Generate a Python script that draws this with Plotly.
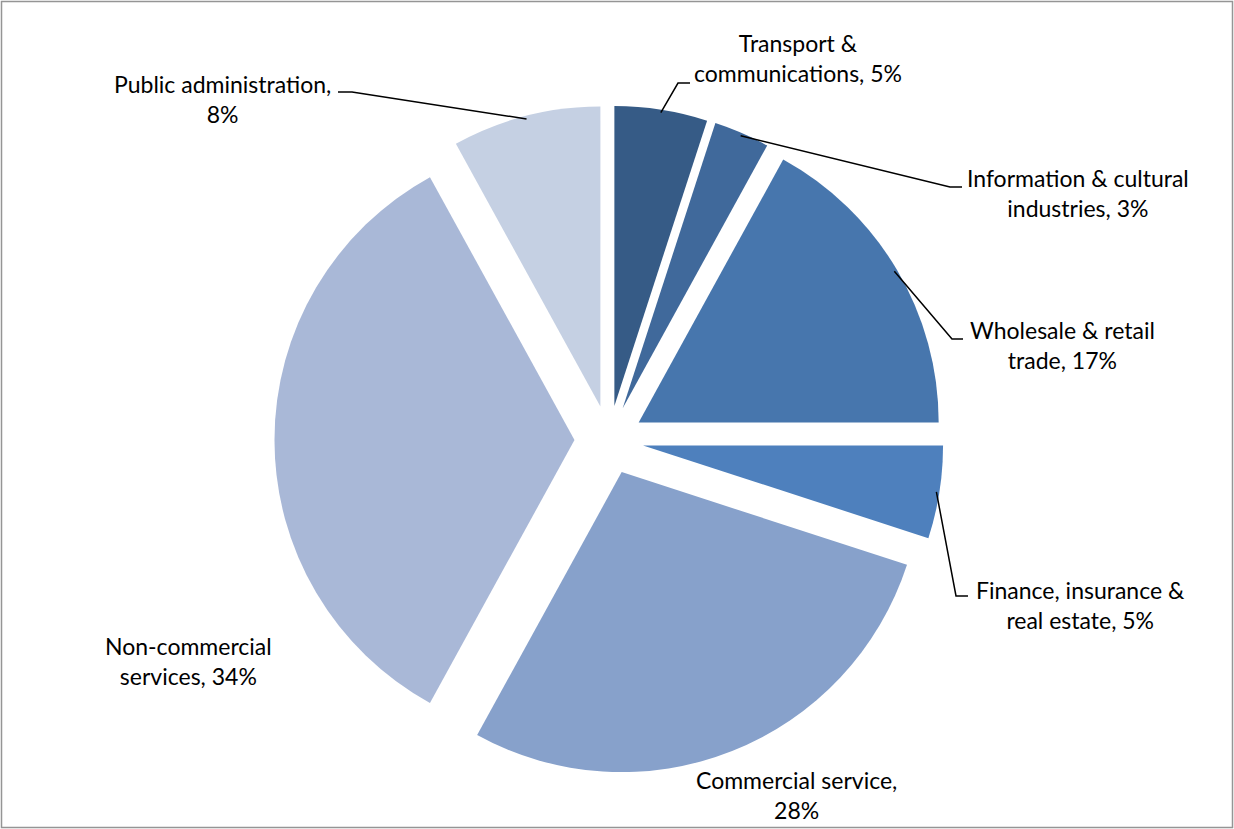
import math
import plotly.graph_objects as go

# Employment share by sector (percent)
sectors = [
    "Transport & communications",
    "Information & cultural industries",
    "Wholesale & retail trade",
    "Finance, insurance & real estate",
    "Commercial service",
    "Non-commercial services",
    "Public administration",
]
shares = [5, 3, 17, 5, 28, 34, 8]

# Two-line label text for each sector
label_heads = [
    "Transport &",
    "Information & cultural",
    "Wholesale & retail",
    "Finance, insurance &",
    "Commercial service,",
    "Non-commercial",
    "Public administration,",
]
label_tails = [
    "communications,",
    "industries,",
    "trade,",
    "real estate,",
    "",
    "services,",
    "",
]

colors = ["#365B86", "#40699B", "#4776AD", "#4E80BD", "#87A1CB", "#A9B8D7", "#C5D0E3"]

W, H = 1234, 829
PULL = 0.115
DOM_X = [0.2224, 0.7646]
DOM_Y = [0.0657, 0.8727]
FONT = "Lato"
FSIZE = 23

# label block centres (px) and leader elbow / end points (px); None = no leader
label_pos = [(798, 58), (1078, 193), (1062, 345), (1080, 605), (796, 795), (188, 661), (222, 99)]
leader_elbow = [(678, 83), (950, 187), (952, 339), (956, 596), None, None, (352, 92)]
leader_end = [(690, 83), (962, 187), (963, 339), (968, 596), None, None, (338, 92)]

fig = go.Figure(
    go.Pie(
        labels=sectors,
        values=shares,
        sort=False,
        direction="clockwise",
        rotation=0,
        pull=[PULL] * len(shares),
        marker=dict(colors=colors, line=dict(width=0)),
        textinfo="none",
        hoverinfo="label+percent",
        domain=dict(x=DOM_X, y=DOM_Y),
    )
)

# Pie geometry, same as plotly's own layout of the domain
box_w = W * (DOM_X[1] - DOM_X[0])
box_h = H * (DOM_Y[1] - DOM_Y[0])
R = min(box_w, box_h) / 2 / (1 + PULL)
cx = W * (DOM_X[0] + DOM_X[1]) / 2
cy = H * (1 - DOM_Y[0]) - box_h / 2


def px(x, y):
    return x / W, 1 - y / H


total = sum(shares)
cum = 0
shapes = []
annotations = []
for i, v in enumerate(shares):
    theta = 2 * math.pi * (cum + v / 2) / total
    cum += v
    ux, uy = math.sin(theta), -math.cos(theta)
    tail = label_tails[i]
    text = label_heads[i] + "<br>" + (tail + " " if tail else "") + f"{v}%"
    lx, ly = px(*label_pos[i])
    annotations.append(
        dict(
            x=lx, y=ly, xref="paper", yref="paper",
            text=text, showarrow=False,
            xanchor="center", yanchor="middle", align="center",
            font=dict(family=FONT, size=FSIZE, color="#000000"),
        )
    )
    if leader_elbow[i] is not None:
        d = (1 + PULL) * R - 3
        sx, sy = cx + d * ux, cy + d * uy
        pts = [(sx, sy), leader_elbow[i], leader_end[i]]
        path = "M " + " L ".join(f"{px(a, b)[0]:.5f},{px(a, b)[1]:.5f}" for a, b in pts)
        shapes.append(dict(type="path", xref="paper", yref="paper", path=path,
                           line=dict(color="#000000", width=1.5)))

# chart frame
shapes.append(dict(type="rect", xref="paper", yref="paper",
                   x0=1.5 / W, x1=(W - 1.5) / W, y0=1.5 / H, y1=1 - 1.5 / H,
                   line=dict(color="#959595", width=1.5)))

fig.update_layout(
    width=W, height=H,
    margin=dict(l=0, r=0, t=0, b=0),
    paper_bgcolor="#FFFFFF",
    plot_bgcolor="#FFFFFF",
    showlegend=False,
    shapes=shapes,
    annotations=annotations,
)

fig.write_html("out.html")
